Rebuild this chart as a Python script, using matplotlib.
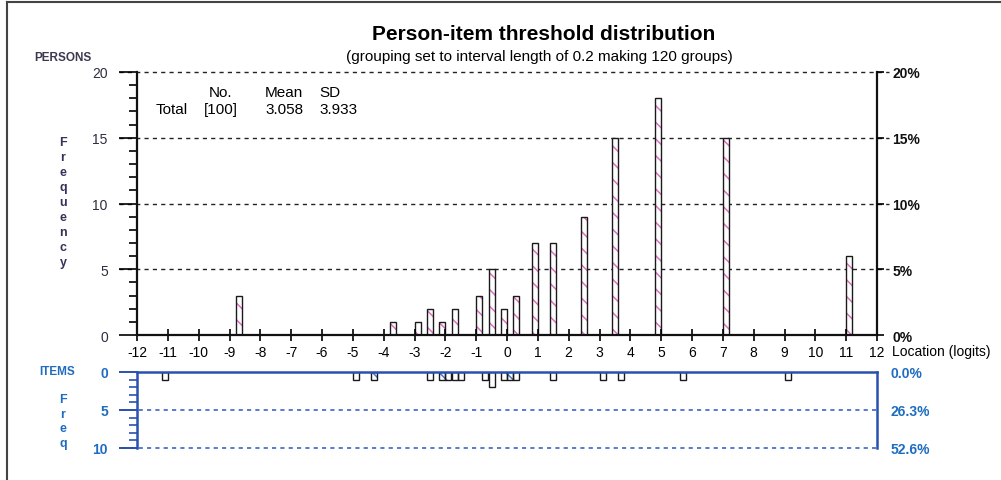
import numpy as np
import matplotlib
matplotlib.use("Agg")
import matplotlib.pyplot as plt
from matplotlib.lines import Line2D

plt.rcParams['font.family'] = ['Liberation Sans', 'DejaVu Sans']
plt.rcParams['hatch.linewidth'] = 1.1

# persons: left edge of 0.2-logit bin and count
person_bins = [-8.8, -3.8, -3.0, -2.6, -2.2, -1.8, -1.0, -0.6, -0.2, 0.2,
               0.8, 1.4, 2.4, 3.4, 4.8, 7.0, 11.0]
person_counts = [3, 1, 1, 2, 1, 2, 3, 5, 2, 3, 7, 7, 9, 15, 18, 15, 6]

# items (thresholds)
item_bins = [-11.2, -5.0, -4.4, -2.6, -2.2, -2.0, -1.8, -1.6, -0.8, -0.6,
             -0.2, 0.0, 0.2, 1.4, 3.0, 3.6, 5.6, 9.0]
item_counts = [1, 1, 1, 1, 1, 1, 1, 1, 1, 2, 1, 1, 1, 1, 1, 1, 1, 1]

x_ticks = list(range(-12, 13))
person_yticks = [0, 5, 10, 15, 20]
item_yticks = [0, 5, 10]
n_persons = 100
n_items = 19
bin_width = 0.2

title = "Person-item threshold distribution"
subtitle = "(grouping set to interval length of 0.2 making 120 groups)"

W, H = 1001, 481
ITEM_BLUE = '#2a50b0'
LABEL_BLUE = '#1f6cc0'
DARK = '#2e2e3e'
TICK_FS = 10


def fx(px):
    return px / W


def fy(py):
    return 1 - py / H


fig = plt.figure(figsize=(W / 100, H / 100), dpi=100)

# ---- persons panel
ax = fig.add_axes([fx(137), fy(336), fx(877) - fx(137), fy(73) - fy(336)])
ax.bar(person_bins, person_counts, width=bin_width, align='edge',
       facecolor='white', edgecolor='#e070c0', hatch='\\\\', linewidth=0)
ax.bar(person_bins, person_counts, width=bin_width, align='edge',
       facecolor='none', edgecolor='#1a1a1a', linewidth=1.0)
ax.set_xlim(-12, 12)
ax.set_ylim(0, 20)
ax.set_xticks(x_ticks)
ax.set_xticklabels([str(t) for t in x_ticks], fontsize=TICK_FS)
ax.set_yticks(person_yticks)
ax.set_yticklabels([str(t) for t in person_yticks], fontsize=TICK_FS, color=DARK)
ax.set_yticks(np.arange(0, 21, 1), minor=True)
ax.tick_params(axis='x', direction='inout', length=8, width=1.2, pad=3)
ax.tick_params(axis='y', which='major', direction='out', length=13, width=1.2, pad=8)
ax.tick_params(axis='y', which='minor', direction='out', length=6, width=1.2)
ax.spines['top'].set_visible(False)
for s in ['left', 'right', 'bottom']:
    ax.spines[s].set_linewidth(1.6)
    ax.spines[s].set_color('#111111')
for v in person_yticks[1:]:
    ax.axhline(v, xmin=-0.025, xmax=1.016, color='#222222', lw=1.0,
               ls=(0, (3, 3)), clip_on=False, zorder=0)

axr = ax.twinx()
axr.set_ylim(0, 20)
axr.set_yticks(person_yticks)
axr.set_yticklabels([f"{v / n_persons * 100:.0f}%" for v in person_yticks],
                    fontsize=TICK_FS, fontweight='bold', color='#111111')
axr.tick_params(axis='y', direction='out', length=5, width=1.2, pad=6)
for s in ['top', 'left', 'bottom', 'right']:
    axr.spines[s].set_visible(False)

# ---- items panel
ai = fig.add_axes([fx(137), fy(449), fx(877) - fx(137), fy(373) - fy(449)])
ai.bar(item_bins, item_counts, width=bin_width, align='edge',
       facecolor='white', edgecolor='#4a78d0', hatch='\\', linewidth=0)
ai.bar(item_bins, item_counts, width=bin_width, align='edge',
       facecolor='none', edgecolor='#1a1a1a', linewidth=1.0)
ai.set_xlim(-12, 12)
ai.set_ylim(10, 0)
ai.set_xticks([])
ai.set_yticks(item_yticks)
ai.set_yticklabels([str(t) for t in item_yticks], fontsize=TICK_FS,
                   fontweight='bold', color=LABEL_BLUE)
ai.set_yticks(np.arange(0, 11, 1), minor=True)
ai.tick_params(axis='y', which='major', direction='out', length=13, width=1.4,
               color=ITEM_BLUE, pad=8)
ai.tick_params(axis='y', which='minor', direction='out', length=6, width=1.2,
               color=ITEM_BLUE)
ai.spines['bottom'].set_visible(False)
for s in ['left', 'right', 'top']:
    ai.spines[s].set_linewidth(1.8)
    ai.spines[s].set_color(ITEM_BLUE)
for v in item_yticks[1:]:
    ai.axhline(v, xmin=-0.02, xmax=1.0, color='#3a66c8', lw=1.2,
               ls=(0, (2.5, 2.5)), clip_on=False, zorder=0)

air = ai.twinx()
air.set_ylim(10, 0)
air.set_yticks(item_yticks)
air.set_yticklabels([f"{v / n_items * 100:.1f}%" for v in item_yticks],
                    fontsize=TICK_FS, fontweight='bold', color=LABEL_BLUE)
air.tick_params(axis='y', direction='out', length=0, pad=10)
for s in ['top', 'left', 'bottom', 'right']:
    air.spines[s].set_visible(False)

# ---- texts
fig.text(fx(544), fy(35), title, ha='center', va='center',
         fontsize=15, fontweight='bold')
fig.text(fx(539), fy(57), subtitle, ha='center', va='center', fontsize=11)
fig.text(fx(63), fy(58), "PERSONS", ha='center', va='center', fontsize=8.5,
         fontweight='bold', color='#3a3a50')
fig.text(fx(63), fy(203), "\n".join("Frequency"), ha='center', va='center',
         fontsize=9, fontweight='bold', color='#33335a', linespacing=1.32)
fig.text(fx(57), fy(372), "ITEMS", ha='center', va='center', fontsize=8.5,
         fontweight='bold', color=LABEL_BLUE)
fig.text(fx(63), fy(422), "\n".join("Freq"), ha='center', va='center',
         fontsize=9, fontweight='bold', color=LABEL_BLUE, linespacing=1.32)
fig.text(fx(892), fy(352), "Location (logits)", ha='left', va='center',
         fontsize=TICK_FS)

stats_head = ["No.", "Mean", "SD"]
stats_vals = ["[100]", "3.058", "3.933"]
head_x = [209, 265, 319]
val_x = [204, 265, 319]
for lab, px in zip(stats_head, head_x):
    fig.text(fx(px), fy(93), lab, ha='left', va='center', fontsize=11)
fig.text(fx(156), fy(110), "Total", ha='left', va='center', fontsize=11)
for lab, px in zip(stats_vals, val_x):
    fig.text(fx(px), fy(110), lab, ha='left', va='center', fontsize=11)

# outer frame (top and left edges)
fig.add_artist(Line2D([fx(7), fx(1001)], [fy(3), fy(3)], color='#444444', lw=1.5))
fig.add_artist(Line2D([fx(7), fx(7)], [fy(3), fy(481)], color='#444444', lw=1.5))

fig.savefig("out.png", dpi=100)
